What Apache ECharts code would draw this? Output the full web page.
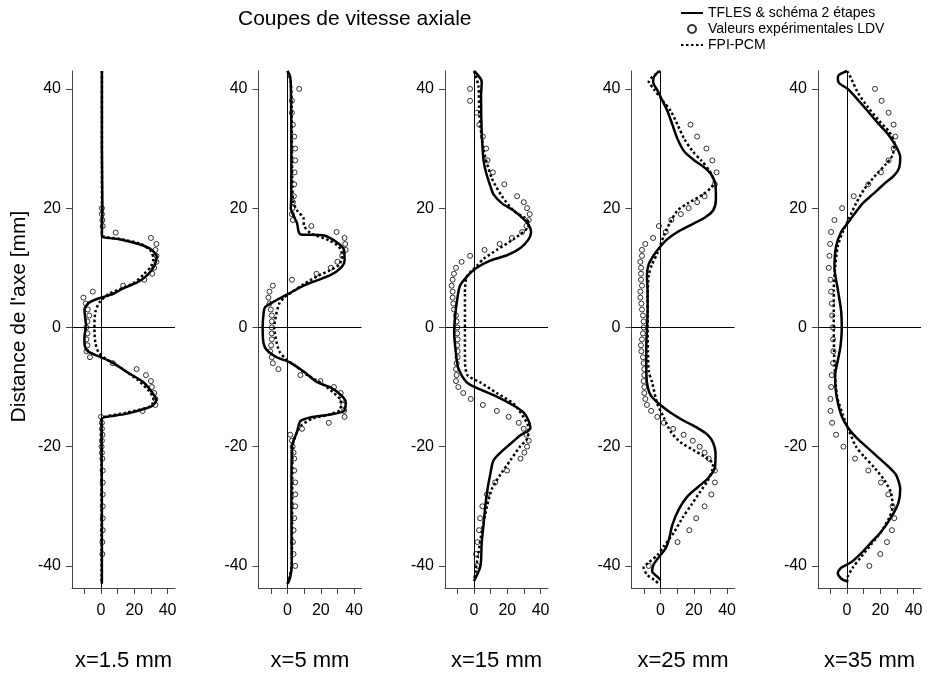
<!DOCTYPE html>
<html>
<head>
<meta charset="utf-8">
<script src="https://cdn.jsdelivr.net/npm/echarts@6/dist/echarts.min.js"></script>
<style>
html, body { margin: 0; padding: 0; background: #fff; }
#chart-show { width: 928px; height: 675px; }
</style>
</head>
<body>
<div id="chart-show"></div>
<script>
// profils [vitesse, position]
const panelNames = ['x=1.5 mm', 'x=5 mm', 'x=15 mm', 'x=25 mm', 'x=35 mm'];
const xTicks = [-10, 0, 10, 20, 30, 40];
const xLabels = [0, 20, 40];
const yTicks = [-40, -20, 0, 20, 40];

const tfles1 = [[0.5,43],[0.5,30],[0.8,20],[0.5,16],[0.5,15.2],[11,14.8],[23.5,13.9],[30.5,13],[33.5,11.9],[32,10.3],[28,8.8],[22,7.6],[13,6.5],[7,5.6],[0,5],[-7,4.2],[-10,3],[-9.5,1.5],[-9,0.3],[-10,-1.5],[-10,-2.8],[-8,-4],[-1,-4.9],[7,-5.9],[15,-7.4],[25.5,-9.2],[31.5,-11.2],[33.3,-12.2],[30,-13.3],[15,-14.5],[3,-15],[0.3,-15.4],[0.3,-20],[0.5,-30],[0.5,-43]];
const fpi1 = [[0.5,43],[0.5,20],[0.5,16],[1,15.3],[12,14.8],[24,14],[30,12.8],[31.5,11.5],[30,10.2],[26,9],[20,7.5],[12,6.5],[4,5.5],[-1,4.2],[-3.5,2.5],[-4,0],[-3.5,-2.5],[-1.5,-4.2],[3,-5.3],[12,-6.8],[22,-8.8],[29,-10.7],[31.5,-12],[30,-13.2],[15,-14.3],[2,-15],[0.3,-15.5],[0.3,-43]];
const ldv1 = [[0.5,20],[0.5,19],[0.8,18],[1,17],[8.8,15.9],[30,15],[33.3,14],[32.7,13],[33.3,12],[33.3,11],[32,10],[30.8,9],[26,8],[13.3,7],[-5,6],[-10.6,5],[-9.2,4],[-8,3],[-7.1,2],[-8.2,1],[-8.8,0],[-8.2,-1],[-8.8,-2],[-8.2,-3],[-8.8,-4],[-6.7,-5],[7.1,-6],[21.4,-7],[27,-8],[30,-9],[30.6,-10],[32,-11],[32.7,-12],[32.7,-13],[25,-14],[0,-15],[0.5,-16],[0.5,-17],[0.8,-18],[0.5,-19],[0.3,-20],[0.5,-21],[0.8,-22],[1,-24],[1,-26],[1,-28],[1,-30],[1,-32],[1,-34],[0.8,-36],[0.8,-38]];

const tfles2 = [[0,43],[1.6,42],[2,40],[2.3,30],[2.2,22],[2,20],[4,18.5],[5.7,17.5],[6.7,16],[8,15.6],[22,15.4],[30,14.2],[34,13],[34.3,11.2],[32,10],[26,8.8],[17.8,7.9],[9.7,7],[1.6,5.8],[-6.5,4.6],[-13.5,3.4],[-14.5,2.2],[-15,0],[-14.5,-2.6],[-12.5,-3.8],[-6.5,-5],[1.6,-5.9],[9.7,-7.4],[17.8,-9.2],[26,-10.1],[32,-11.3],[35,-12.5],[34,-14],[26,-14.6],[13.7,-15.1],[7.7,-15.7],[5.7,-17.5],[2.6,-20],[2.3,-30],[2.5,-40],[1.5,-42],[0,-43]];
const fpi2 = [[0,43],[2,41],[2.5,35],[2.8,25],[3.5,21],[6,19.5],[9.5,18.4],[10,17],[14,15.8],[25,14.6],[31,13.5],[33,12],[31,10.5],[25,9.5],[18,8.6],[10,7.3],[3,6],[-2,5],[-5,4],[-7,2],[-8,0],[-7,-2],[-5,-4],[-1,-5.3],[5,-6.5],[12,-8],[20,-9.3],[27,-10.8],[32,-12.3],[32,-13.7],[25,-14.6],[15,-15.3],[8,-16.5],[5,-18],[3,-20],[2.8,-30],[2.5,-40],[1,-42],[0,-43]];
const ldv2 = [[7,40],[2.6,38],[2.6,36],[3.2,34],[4,32],[4.6,30],[4.6,28],[4.2,26],[4,24],[3.8,22],[3.2,21],[3,20],[2.6,19],[3.2,18],[14.3,17],[29.5,16],[34.3,15],[34.7,14],[35,13],[32.9,12],[30,11],[26,10],[17.4,9],[2.6,8],[-8.9,7],[-10.9,6],[-11.5,5],[-10.9,4],[-10.1,3],[-9.5,2],[-9.5,1],[-9.5,0],[-9.5,-1],[-9.5,-2],[-9.9,-3],[-10.5,-4],[-9.5,-5],[-8.9,-6],[-5.5,-7],[7.7,-8],[19.8,-9],[27.9,-10],[32,-11],[33,-12],[33.5,-13],[34,-14],[34.3,-15],[24.8,-16],[8.7,-17],[1.6,-18],[2.6,-19],[3,-20],[3.6,-21],[4,-22],[4,-24],[4.6,-26],[4.6,-28],[4.6,-30],[4,-32],[3.6,-34],[3.2,-36],[3.6,-38],[4.6,-40]];

const tfles3 = [[0,43],[4.6,41.2],[4.2,38.8],[4.6,32.8],[5.7,28],[7.3,25.9],[9.7,23.8],[11.7,22.3],[16.8,20.8],[23.8,19.6],[28.9,18.4],[32.9,17.2],[34.3,16],[32.9,14.8],[27.9,13.3],[19.8,12.1],[9.7,11.2],[1.6,10],[-3.4,8.8],[-8.5,7],[-10.5,4],[-11.5,1.6],[-12,-0.8],[-10.9,-4.4],[-9.5,-6.8],[-4.4,-9.2],[3.6,-10.4],[13.7,-11.6],[23.8,-13.1],[29.9,-14.3],[32.9,-15.7],[33.9,-16.9],[27.9,-18.1],[22.8,-19.3],[17.8,-20.5],[11.7,-22.3],[9.7,-24.7],[8.1,-27.1],[6.7,-30.1],[5.7,-33.1],[4.6,-36.1],[4.2,-39.1],[3.6,-40.3],[0,-42.5]];
const fpi3 = [[0,43],[2.6,40.5],[3.2,35.7],[5.7,29.8],[10.7,25],[16.8,22],[24,19.5],[31,18.3],[33,17.5],[32,16.6],[23.8,14.8],[13.7,13],[5.7,11.5],[1.6,10.3],[-4.4,8.5],[-5.5,5.8],[-5.5,0],[-5.5,-5.6],[-4,-8],[3.6,-9.2],[13.7,-11],[23.8,-12.8],[29.9,-15.1],[32.9,-16.9],[31.9,-18.7],[27.9,-19.9],[21.8,-22.3],[15.8,-24.7],[10.7,-27.1],[7.7,-30.1],[4.6,-34.3],[2.6,-37.9],[1.2,-40.3],[0,-42.5]];
const ldv3 = [[-2.4,40],[-2.4,38],[1.6,36],[3.2,34],[5.3,32],[7.3,30],[8.1,28],[11.3,26],[18.2,24],[25.9,22],[29.9,21],[31.9,20],[33.5,19],[32.9,18],[31.5,17],[28.9,16],[22.8,15],[15.4,14],[6.3,13],[-2.4,12],[-7.5,11],[-10.9,10],[-12.1,9],[-12.9,8],[-13.5,7],[-12.9,6],[-12.9,5],[-12.5,4],[-12.1,3],[-10.9,2],[-10.5,1],[-10.1,0],[-10.1,-1],[-9.9,-2],[-10.1,-3],[-9.9,-4],[-9.9,-5],[-10.5,-6],[-10.9,-7],[-10.5,-8],[-10.9,-9],[-9.5,-10],[-6.5,-11],[-2,-12],[5.3,-13],[13.7,-14],[20.8,-15],[26.9,-16],[29.9,-17],[31.5,-18],[32.9,-19],[31.9,-20],[30.3,-21],[27.9,-22],[19.8,-24],[12.7,-26],[7.7,-28],[5,-30],[3.6,-32],[3,-34],[2,-36],[1.2,-38],[2,-40]];

const tfles4 = [[-1,43],[-4,42],[-4.5,41.2],[-1.6,39.6],[1,38.1],[4.1,36.3],[7.1,34],[10.2,31.6],[14.3,29.5],[20.4,28],[26.5,26.8],[30.6,25.6],[33.1,23.8],[33.3,21.4],[31.6,19.6],[26.5,18.4],[18.4,17.2],[10.2,16],[4.1,14.8],[0,13.6],[-4.1,12.1],[-7.1,10.6],[-8.2,8.8],[-7.8,5.8],[-7.8,2.8],[-8.2,-0.2],[-8.6,-3.2],[-8.6,-6.2],[-8.2,-9.2],[-6.1,-11.3],[-1,-12.8],[6.1,-14.3],[14.3,-15.7],[22.4,-16.9],[28.6,-18.1],[31.6,-19.3],[33.1,-21.1],[32.7,-23.5],[28.6,-25.3],[22.4,-26.8],[16.3,-28.3],[11.2,-30.4],[7.1,-33.1],[5.1,-35.5],[3.1,-37],[-1,-38.5],[-4.1,-39.7],[-5.1,-40.9],[-2,-41.8],[0,-42.4]];
const fpi4 = [[0,43],[-5,42],[-7.1,41.2],[-4.1,40],[1,38.1],[6.1,36.3],[10.2,34],[14.3,31.6],[19.4,29.5],[24.5,28],[29.6,26.2],[32.2,24.4],[30.6,23.5],[25.5,22.3],[16.3,20.8],[10.2,19.6],[6.1,17.8],[2,15.4],[-2,12.4],[-5.1,10.6],[-7.1,8.8],[-7.8,5],[-7.8,0],[-7.6,-4],[-7.1,-7.4],[-5.1,-9.2],[-2,-12.8],[2,-15.1],[6.1,-17.5],[12.2,-19.3],[19.4,-20.5],[26.5,-21.7],[31.6,-22.9],[31,-24],[28.6,-25.6],[23.5,-27.7],[18.4,-29.8],[13.3,-31.9],[8.2,-34.3],[2,-36.7],[-2,-38.2],[-7.1,-39.4],[-10.2,-40.3],[-8,-41.5],[-4,-42.3],[-1,-43]];
const ldv4 = [[18,34],[22,32],[27.6,30],[31.2,28],[33.7,26],[32.7,24],[26.5,22],[22,21],[16.9,20],[12.2,19],[6.5,18],[-1,17],[3.1,16],[-4.5,15],[-9.2,14],[-11.2,13],[-11.2,12],[-12.2,11],[-11.8,10],[-11.8,9],[-11.8,8],[-11.2,7],[-12.2,6],[-12.2,5],[-11.6,4],[-11.2,3],[-10.6,2],[-10.2,1],[-10.2,0],[-10.6,-1],[-11.2,-2],[-11.8,-3],[-11.6,-4],[-10.6,-5],[-10.2,-6],[-9.8,-7],[-9.8,-8],[-10.2,-9],[-9.8,-10],[-9.8,-11],[-9.2,-12],[-8.2,-13],[-5.7,-14],[-2,-15],[2,-16],[7.6,-17],[13.9,-18],[19.4,-19],[23.5,-20],[26.5,-21],[29,-22],[32.7,-24],[32.7,-26],[30.6,-28],[26.5,-30],[21.4,-32],[17.3,-34],[10.2,-36],[-7.1,-40]];

const tfles5 = [[0,43],[-4.6,42.4],[-5.6,41.8],[-4.6,40.9],[0.4,40],[6.4,38.2],[12.4,36.3],[18.4,34.3],[24.4,32.5],[29.4,30.4],[32,28.6],[31.4,26.8],[28.4,25.5],[22.4,24.1],[15.4,22.3],[9.4,20.8],[4.4,19],[0.4,17.5],[-3.6,16],[-6.6,13.6],[-7.6,10],[-5.6,6.4],[-3.6,2.8],[-3.2,-0.2],[-4,-3.2],[-5.6,-5.6],[-7.2,-8],[-6.6,-11],[-3.6,-14.6],[0.8,-16.9],[6.4,-18.7],[12.4,-20.2],[18.4,-21.7],[24.4,-23.2],[29.4,-24.7],[32,-27.1],[30.8,-29.5],[26.4,-31.9],[20.4,-34.3],[14.4,-36.1],[8.4,-37.9],[2.4,-39.4],[-3.6,-40.3],[-5.6,-41.2],[-3.6,-42.1],[0,-42.6]];
const fpi5 = [[0,43],[2.4,41.8],[6.4,39.4],[12.4,37],[19.4,34.6],[25.4,32.8],[28.4,31],[27.4,28.9],[23.4,27.4],[17.4,25.6],[10.4,23.2],[5.4,20.8],[1.4,18.4],[-2.6,16],[-5.6,13.6],[-7.2,10],[-8,6.4],[-8,0],[-7.6,-6.2],[-6,-11.6],[-2.6,-14.6],[1.4,-17.5],[5.4,-20],[10.4,-21.7],[16.4,-23.5],[22.4,-25.6],[26.4,-27.7],[27.4,-30.1],[25.4,-31.9],[20.4,-34.3],[14.4,-36.4],[8.4,-38.5],[3.4,-40.3],[0.4,-41.8],[0,-43]];
const ldv5 = [[16.8,40],[20.8,38],[25,36],[28,34],[29,32],[28,30],[25,28],[20.4,26],[12.8,24],[4,22],[-3,20],[-7.6,18],[-9.6,16],[-10.2,14],[-10.6,12],[-11,10],[-10,8],[-9.6,6],[-9.2,4],[-9,2],[-8.6,0],[-8.4,-2],[-8.2,-4],[-8.4,-6],[-9.2,-8],[-9.6,-10],[-10,-12],[-10,-14],[-9,-16],[-6.6,-18],[-2.2,-20],[4.8,-22],[12.8,-24],[20.4,-26],[24.8,-28],[27.4,-30],[28.4,-32],[27,-34],[24,-36],[20,-38],[13.4,-40]];

const tflesAll = [tfles1, tfles2, tfles3, tfles4, tfles5];
const fpiAll = [fpi1, fpi2, fpi3, fpi4, fpi5];
const ldvAll = [ldv1, ldv2, ldv3, ldv4, ldv5];

const NAME_TFLES = 'TFLES & schéma 2 étapes';
const NAME_LDV = 'Valeurs expérimentales LDV';
const NAME_FPI = 'FPI-PCM';
const FONT = '"Liberation Sans", Arial, sans-serif';

var myChart = echarts.init(document.getElementById('chart-show'));
var grids = [], xAxes = [], yAxes = [], series = [];

panelNames.forEach(function (name, i) {
    grids.push({
        left: 72 + 186.5 * i, top: 71, width: 103, height: 517,
        containLabel: false, outerBoundsMode: 'none'
    });
    xAxes.push({
        type: 'value', gridIndex: i, min: -17.5, max: 44.5,
        name: name, nameLocation: 'middle', nameGap: 62,
        nameTextStyle: { fontSize: 22, color: '#000', fontFamily: FONT },
        axisLine: { onZero: false, lineStyle: { color: '#444', width: 1 } },
        axisTick: { customValues: xTicks, length: 6, lineStyle: { color: '#444' } },
        axisLabel: { customValues: xLabels, fontSize: 16, color: '#000', margin: 15, fontFamily: FONT },
        splitLine: { show: false }
    });
    yAxes.push({
        type: 'value', gridIndex: i, min: -43.7, max: 43,
        name: i === 0 ? "Distance de l'axe [mm]" : '',
        nameLocation: 'middle', nameGap: 42, nameRotate: 90,
        nameTextStyle: { fontSize: 21, color: '#000', fontFamily: FONT, padding: [0, 0, 0, 26] },
        axisLine: { show: true, onZero: false, lineStyle: { color: '#444', width: 1 } },
        axisTick: { show: true, customValues: yTicks, length: 6, lineStyle: { color: '#444' } },
        axisLabel: { customValues: yTicks, fontSize: 16, color: '#000', margin: 11, fontFamily: FONT },
        splitLine: { show: false }
    });
    series.push({
        name: NAME_TFLES, type: 'line', xAxisIndex: i, yAxisIndex: i,
        data: tflesAll[i], symbol: 'none', smooth: 0.25,
        lineStyle: { color: '#000', width: 2.5 },
        itemStyle: { color: '#000' },
        markLine: {
            silent: true, symbol: ['none', 'none'], label: { show: false },
            lineStyle: { color: '#000', width: 1, type: 'solid' },
            data: [{ xAxis: 0 }, { yAxis: 0 }]
        },
        z: 3
    });
    series.push({
        name: NAME_FPI, type: 'line', xAxisIndex: i, yAxisIndex: i,
        data: fpiAll[i], symbol: 'none', smooth: 0.25,
        lineStyle: { color: '#000', width: 2.5, type: [2.5, 2.5] },
        itemStyle: { color: '#000' },
        z: 3
    });
    series.push({
        name: NAME_LDV, type: 'scatter', xAxisIndex: i, yAxisIndex: i,
        data: ldvAll[i], symbol: 'circle', symbolSize: 5,
        itemStyle: { color: 'rgba(0,0,0,0)', borderColor: '#000', borderWidth: 1 },
        z: 4
    });
});

var option = {
    animation: false,
    backgroundColor: '#fff',
    textStyle: { fontFamily: FONT },
    title: {
        text: 'Coupes de vitesse axiale', left: 238, top: 9, padding: 0,
        textStyle: { fontSize: 21, fontWeight: 'normal', color: '#000', fontFamily: FONT }
    },
    legend: {
        orient: 'vertical', left: 680, top: 6, padding: 0,
        itemWidth: 22, itemHeight: 8, itemGap: 2,
        data: [
            { name: NAME_TFLES, itemStyle: { opacity: 0 } },
            { name: NAME_LDV },
            { name: NAME_FPI, itemStyle: { opacity: 0 } }
        ],
        textStyle: { fontSize: 14, color: '#000', fontFamily: FONT }
    },
    grid: grids,
    xAxis: xAxes,
    yAxis: yAxes,
    series: series
};

option && myChart.setOption(option);
</script>
</body>
</html>
